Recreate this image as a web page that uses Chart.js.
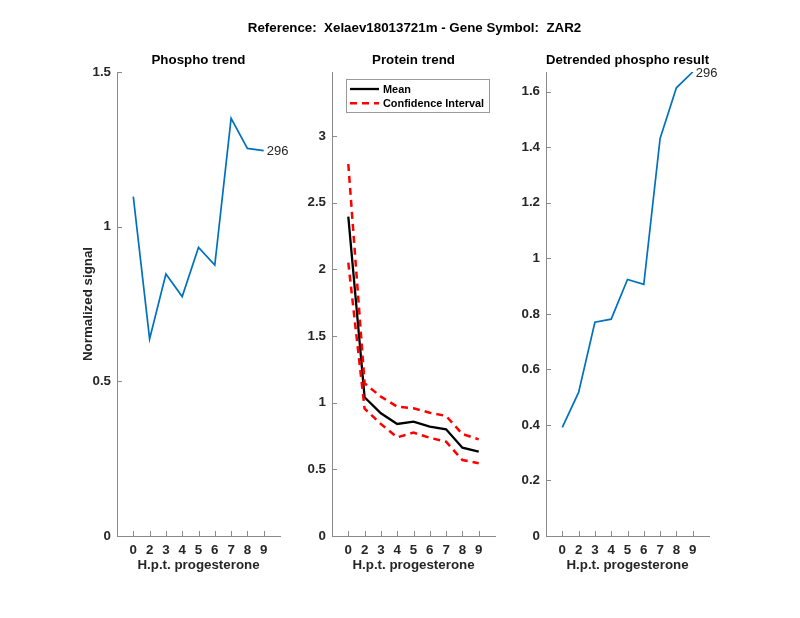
<!DOCTYPE html>
<html><head><meta charset="utf-8">
<script src="https://cdn.jsdelivr.net/npm/chart.js@4.4.0/dist/chart.umd.min.js"></script>
<style>
html,body{margin:0;padding:0;background:#fff;overflow:hidden;}
.panel{position:absolute;left:0;top:0;width:800px;height:618px;}
</style></head><body>
<div class="panel"><canvas id="c1" width="800" height="618"></canvas></div>
<div class="panel"><canvas id="c2" width="800" height="618"></canvas></div>
<div class="panel"><canvas id="c3" width="800" height="618"></canvas></div>
<script>
// ---------- data ----------
const hours = ['0','2','3','4','5','6','7','8','9'];
const phosphoTrend = [1.097, 0.637, 0.847, 0.774, 0.933, 0.876, 1.350, 1.253, 1.246];
const proteinMean  = [2.395, 1.040, 0.920, 0.840, 0.857, 0.820, 0.800, 0.662, 0.632];
const proteinUpper = [2.790, 1.145, 1.045, 0.970, 0.958, 0.925, 0.900, 0.765, 0.725];
const proteinLower = [2.050, 0.955, 0.840, 0.740, 0.775, 0.737, 0.707, 0.570, 0.545];
const detrended    = [0.391, 0.517, 0.770, 0.781, 0.924, 0.906, 1.432, 1.614, 1.671];
const phosphoTicks = [0, 0.5, 1, 1.5];
const proteinTicks = [0, 0.5, 1, 1.5, 2, 2.5, 3];
const detrendTicks = [0, 0.2, 0.4, 0.6, 0.8, 1, 1.2, 1.4, 1.6];
const phosphoMax = 1.5, proteinMax = 3.48, detrendMax = 1.671;
const peptideLabel = '296';
const mainTitle = 'Reference:  Xelaev18013721m - Gene Symbol:  ZAR2';
const xTitle = 'H.p.t. progesterone';
const yTitle = 'Normalized signal';

// ---------- style ----------
const FONT = "'Liberation Sans', Arial, Helvetica, sans-serif";
const AXIS = '#8a8a8a';
const TXT = '#262626';
const BLUE = '#0072BD';
const FS = 13.33;

const pts = arr => arr.map((v, i) => ({x: i, y: v}));

const insideTicks = {
  id: 'insideTicks',
  afterDraw(chart) {
    const ctx = chart.ctx, a = chart.chartArea;
    const xs = chart.scales.x, ys = chart.scales.y;
    ctx.save();
    ctx.strokeStyle = AXIS; ctx.lineWidth = 1;
    ctx.beginPath();
    xs.ticks.forEach(t => {
      const px = Math.round(xs.getPixelForValue(t.value)) + 0.5;
      ctx.moveTo(px, a.bottom); ctx.lineTo(px, a.bottom - 5);
    });
    ys.ticks.forEach(t => {
      const py = Math.round(ys.getPixelForValue(t.value)) + 0.5;
      ctx.moveTo(a.left, py); ctx.lineTo(a.left + 5, py);
    });
    ctx.stroke();
    ctx.restore();
  }
};

const endLabel = {
  id: 'endLabel',
  afterDatasetsDraw(chart) {
    const ctx = chart.ctx;
    chart.data.datasets.forEach((ds, i) => {
      if (!ds.endLabel) return;
      const meta = chart.getDatasetMeta(i);
      const last = meta.data[meta.data.length - 1];
      ctx.save();
      ctx.font = '13px ' + FONT;
      ctx.fillStyle = TXT;
      ctx.textAlign = 'left';
      ctx.textBaseline = 'middle';
      ctx.fillText(ds.endLabel, last.x + 3, last.y + 1);
      ctx.restore();
    });
  }
};

const figTitle = {
  id: 'figTitle',
  afterDraw(chart, args, opts) {
    if (!opts || !opts.text) return;
    const ctx = chart.ctx, a = chart.chartArea;
    ctx.save();
    ctx.font = 'bold ' + FS + 'px ' + FONT;
    ctx.fillStyle = '#000';
    ctx.textAlign = 'center';
    ctx.textBaseline = 'middle';
    ctx.fillText(opts.text, (a.left + a.right) / 2 + 1, 28);
    ctx.restore();
  }
};

const boxLegend = {
  id: 'boxLegend',
  afterDraw(chart, args, opts) {
    if (!opts || !opts.show) return;
    const ctx = chart.ctx, a = chart.chartArea;
    const x0 = a.left + 14, y0 = a.top + 7, w = 143, h = 33;
    ctx.save();
    ctx.fillStyle = '#fff';
    ctx.fillRect(x0, y0, w, h);
    ctx.strokeStyle = '#9a9a9a'; ctx.lineWidth = 1;
    ctx.strokeRect(x0 + 0.5, y0 + 0.5, w, h);
    const items = opts.items.map(idx => chart.data.datasets[idx]);
    items.forEach((ds, k) => {
      const y = y0 + 10 + k * 14.3;
      ctx.strokeStyle = ds.borderColor;
      ctx.lineWidth = ds.borderWidth;
      ctx.setLineDash(ds.borderDash || []);
      ctx.beginPath(); ctx.moveTo(x0 + 4, y); ctx.lineTo(x0 + 33, y); ctx.stroke();
      ctx.setLineDash([]);
      ctx.fillStyle = '#000';
      ctx.font = 'bold 10.9px ' + FONT;
      ctx.textAlign = 'left'; ctx.textBaseline = 'middle';
      ctx.fillText(ds.label, x0 + 37, y + 0.5);
    });
    ctx.restore();
  }
};

function makeChart(id, o) {
  const Wy = 60, Hx = 50;
  return new Chart(document.getElementById(id), {
    type: 'line',
    data: {datasets: o.datasets},
    plugins: [insideTicks, endLabel, boxLegend, figTitle],
    options: {
      responsive: false,
      animation: false,
      events: [],
      layout: {padding: {left: o.L - Wy, right: 800 - o.R, top: o.padTop, bottom: 618 - 536 - Hx}},
      elements: {point: {radius: 0}, line: {tension: 0}},
      plugins: {
        legend: {display: false},
        tooltip: {enabled: false},
        title: o.title,
        boxLegend: o.legend || {show: false},
        figTitle: o.figTitle || {}
      },
      scales: {
        x: {
          type: 'linear', min: -1, max: 9,
          afterBuildTicks: s => { s.ticks = hours.map((h, i) => ({value: i})); },
          afterFit: s => { s.height = Hx; },
          ticks: {
            callback: v => hours[v],
            font: {family: FONT, size: FS, weight: 'bold'}, color: TXT,
            padding: 6, maxRotation: 0, autoSkip: false
          },
          grid: {drawOnChartArea: false, drawTicks: false},
          border: {color: AXIS, width: 1},
          title: {display: true, text: xTitle, color: TXT,
                  font: {family: FONT, size: FS, weight: 'bold', lineHeight: 1.2},
                  padding: {top: 0, bottom: 21 - FS * 0.6}}
        },
        y: {
          type: 'linear', min: 0, max: o.yMax,
          afterBuildTicks: s => { s.ticks = o.yTicks.map(v => ({value: v})); },
          afterFit: s => { s.width = Wy; },
          ticks: {
            callback: v => String(Math.round(v * 100) / 100),
            font: {family: FONT, size: FS, weight: 'bold'}, color: TXT,
            padding: 6
          },
          grid: {drawOnChartArea: false, drawTicks: false},
          border: {color: AXIS, width: 1},
          title: o.yTitle ? {display: true, text: yTitle, color: TXT,
                  font: {family: FONT, size: FS, weight: 'bold', lineHeight: 1.2},
                  padding: {top: (88 - (o.L - Wy)) - FS * 0.6, bottom: 0}} : {display: false}
        }
      }
    }
  });
}

const titleFont = {family: FONT, size: FS, weight: 'bold', lineHeight: 1.2};
const lh = FS * 1.2;
const panelTitle = text => ({display: true, text, fullSize: false, color: '#000',
  font: titleFont, padding: {top: 0, bottom: 72 - 60 - lh / 2}});

makeChart('c1', {
  L: 117, R: 280, yMax: phosphoMax, yTicks: phosphoTicks, yTitle: true,
  padTop: 60 - lh / 2,
  title: panelTitle('Phospho trend'),
  datasets: [{label: 'Phospho', data: pts(phosphoTrend), borderColor: BLUE,
              borderWidth: 1.7, endLabel: peptideLabel}]
});

makeChart('c2', {
  L: 332, R: 495, yMax: proteinMax, yTicks: proteinTicks,
  padTop: 60 - lh / 2,
  title: panelTitle('Protein trend'),
  figTitle: {text: mainTitle},
  legend: {show: true, items: [0, 1]},
  datasets: [
    {label: 'Mean', data: pts(proteinMean), borderColor: '#000', borderWidth: 2.3, order: 2},
    {label: 'Confidence Interval', data: pts(proteinUpper), borderColor: '#ff0000',
     borderWidth: 2.5, borderDash: [7, 5], order: 1},
    {label: 'Confidence Interval (lower)', data: pts(proteinLower), borderColor: '#ff0000',
     borderWidth: 2.5, borderDash: [7, 5], order: 1}
  ]
});

makeChart('c3', {
  L: 546, R: 709, yMax: detrendMax, yTicks: detrendTicks,
  padTop: 60 - lh / 2,
  title: panelTitle('Detrended phospho result'),
  datasets: [{label: 'Detrended', data: pts(detrended), borderColor: BLUE,
              borderWidth: 1.7, endLabel: peptideLabel}]
});
</script>
</body></html>
